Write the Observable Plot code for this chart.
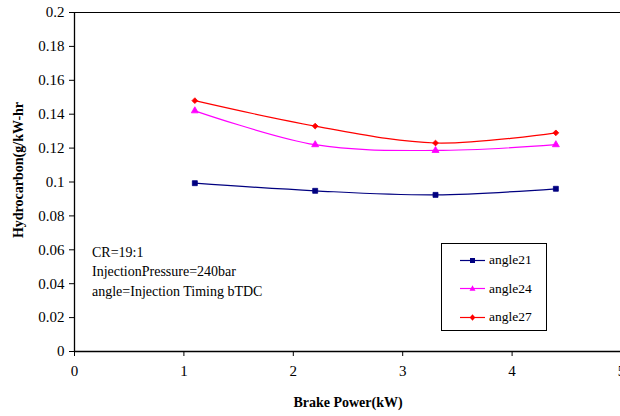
<!DOCTYPE html>
<html><head><meta charset="utf-8">
<script src="https://cdn.jsdelivr.net/npm/d3@7"></script>
<script src="https://cdn.jsdelivr.net/npm/@observablehq/plot@0.6"></script>
<style>
html,body{margin:0;padding:0;background:#fff;overflow:hidden;width:620px;height:416px}
#wrap{position:relative;width:620px;height:416px;overflow:hidden;font-family:'Liberation Serif'}
#chart svg{font-family:'Liberation Serif' !important}
#chart svg text{font-family:'Liberation Serif' !important}
#legend{position:absolute;left:441px;top:243px;width:104px;height:86px;border:1px solid #000;background:#fff;font-family:'Liberation Serif';font-size:13.5px;color:#000}
.item{position:absolute;left:18px;height:16px;display:flex;align-items:center}
.item span{margin-left:4px}
.note{position:absolute;left:92px;font-family:'Liberation Serif';font-size:14px;color:#000;white-space:nowrap}
</style></head><body>
<div id="wrap"><div id="chart"></div><div id="legend"></div><div id="notes"></div></div>
<script>
const power = [1.1, 2.2, 3.3, 4.4];
const angle21 = [0.0993, 0.0948, 0.0924, 0.096];
const angle24 = [0.142, 0.122, 0.1186, 0.122];
const angle27 = [0.148, 0.133, 0.123, 0.129];
const seriesNames = ["angle21", "angle24", "angle27"];
const seriesColors = ["#000080", "#FF00FF", "#FF0000"];
const seriesSymbols = ["square", "triangle", "diamond2"];
const xTicks = [0, 1, 2, 3, 4, 5];
const yTicks = [0, 0.02, 0.04, 0.06, 0.08, 0.1, 0.12, 0.14, 0.16, 0.18, 0.2];
const notes = ["CR=19:1", "InjectionPressure=240bar", "angle=Injection Timing bTDC"];

const all = [angle21, angle24, angle27];
const data = [];
all.forEach((vals, i) => vals.forEach((v, j) => data.push({series: seriesNames[i], x: power[j], y: v})));

const marks = [
  Plot.ruleY([0.2], {stroke: "#000", strokeWidth: 1}),
  Plot.axisY({ticks: yTicks, tickSize: 5, tickPadding: 5, tickFormat: d => String(d), label: null, fontSize: 15}),
  Plot.axisX({ticks: xTicks, tickSize: 5, tickPadding: 9, tickFormat: d => String(d), label: null, fontSize: 15}),
  Plot.ruleX([0], {stroke: "#000", strokeWidth: 1.3}),
  Plot.ruleY([0], {stroke: "#000", strokeWidth: 1.3}),
];
const rs = [2.8, 2.6, 2.6];
seriesNames.forEach((name, i) => {
  const d = data.filter(r => r.series === name);
  marks.push(Plot.line(d, {x: "x", y: "y", stroke: seriesColors[i], strokeWidth: 1.2, curve: "catmull-rom"}));
  marks.push(Plot.dot(d, {x: "x", y: "y", fill: seriesColors[i], stroke: seriesColors[i], strokeWidth: 0.8, symbol: seriesSymbols[i], r: rs[i]}));
});
marks.push(Plot.text(["Hydrocarbon(g/kW-hr"], {frameAnchor: "left", dx: -56, dy: -12, rotate: -90, textAnchor: "middle", lineAnchor: "middle", fontWeight: "bold", fontSize: 14}));
marks.push(Plot.text(["Brake Power(kW)"], {frameAnchor: "bottom", dy: 51, textAnchor: "middle", lineAnchor: "middle", fontWeight: "bold", fontSize: 14}));

const chart = Plot.plot({
  width: 624, height: 416,
  marginLeft: 74, marginRight: 3, marginTop: 12, marginBottom: 65,
  style: "font-family: 'Liberation Serif'; font-size: 15px; color: #000; overflow: visible; max-width: none;",
  x: {domain: [0, 5]},
  y: {domain: [0, 0.2]},
  marks
});
document.getElementById("chart").appendChild(chart);

const legend = document.getElementById("legend");
const symPaths = {
  square: '<rect x="10" y="5" width="5" height="5"/>',
  triangle: '<polygon points="12.5,4.2 15.5,9.7 9.5,9.7"/>',
  diamond2: '<polygon points="12.5,4.2 15.3,7.5 12.5,10.8 9.7,7.5"/>'
};
seriesNames.forEach((name, i) => {
  const div = document.createElement("div");
  div.className = "item";
  div.style.top = (8 + i * 28.5) + "px";
  div.innerHTML = `<svg width="25" height="15"><line x1="0" x2="25" y1="7.5" y2="7.5" stroke="${seriesColors[i]}" stroke-width="1.2"/><g fill="${seriesColors[i]}">${symPaths[seriesSymbols[i]]}</g></svg><span>${name}</span>`;
  legend.appendChild(div);
});
const notesEl = document.getElementById("notes");
notes.forEach((t, i) => {
  const d = document.createElement("div");
  d.className = "note";
  d.style.top = (245 + i * 19.3) + "px";
  d.textContent = t;
  notesEl.appendChild(d);
});
</script></body></html>
